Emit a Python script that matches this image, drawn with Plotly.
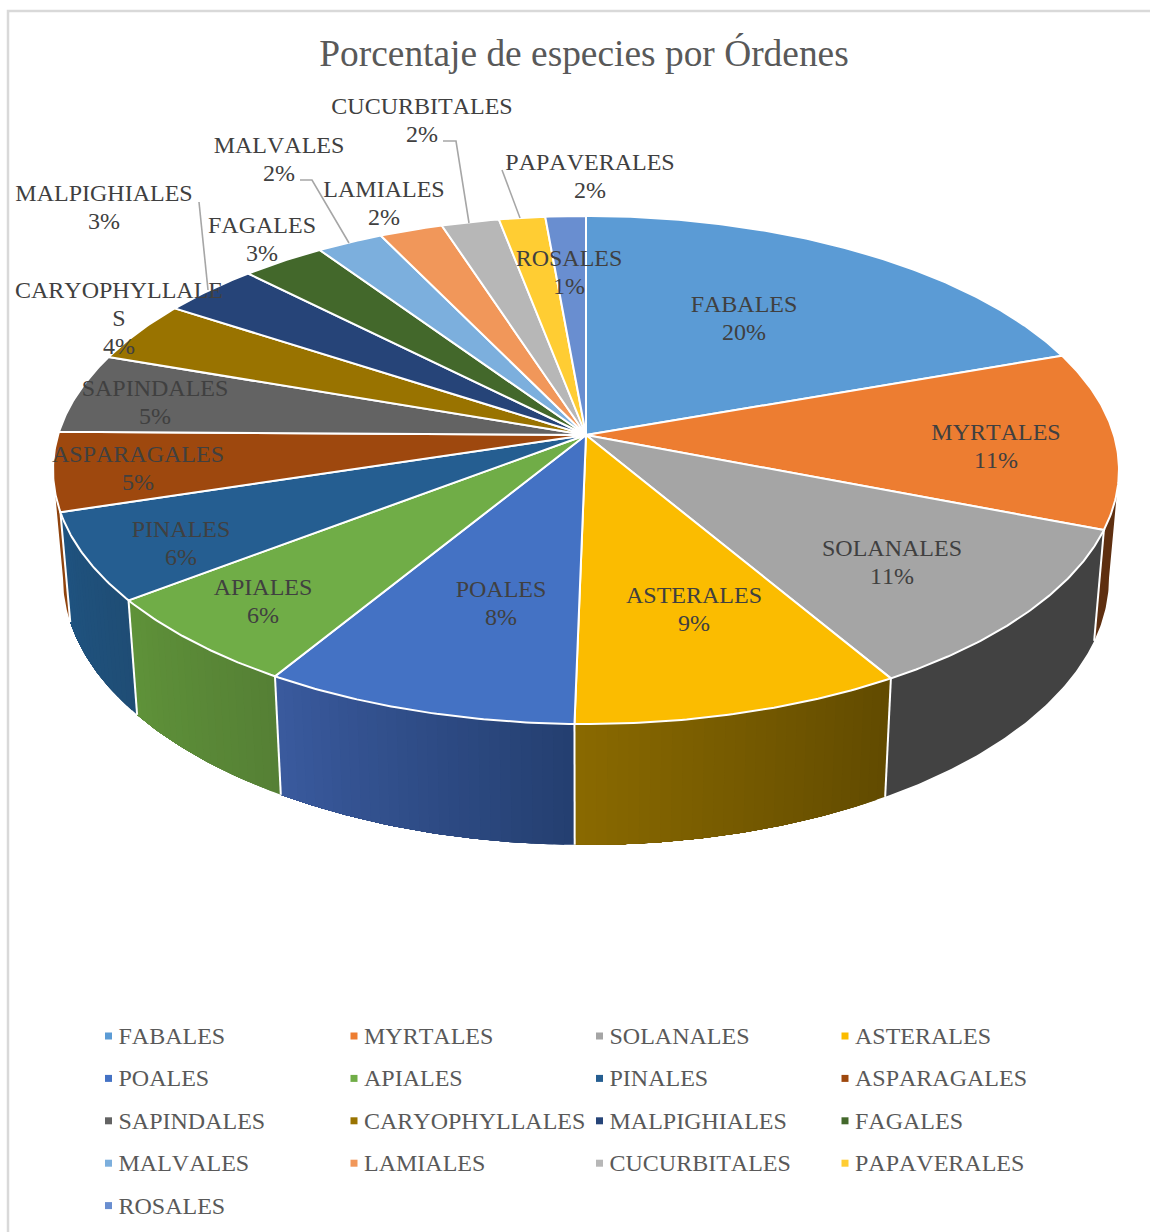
import math
import plotly.graph_objects as go

# Orders and their share of species (percent)
orders = ["FABALES", "MYRTALES", "SOLANALES", "ASTERALES", "POALES", "APIALES", "PINALES",
          "ASPARAGALES", "SAPINDALES", "CARYOPHYLLALES", "MALPIGHIALES", "FAGALES",
          "MALVALES", "LAMIALES", "CUCURBITALES", "PAPAVERALES", "ROSALES"]
shares = [19.6, 11.3, 10.6, 8.8, 8.4, 5.9, 5.6, 5.0, 5.1, 3.9, 3.4, 2.9, 2.3, 2.2, 2.0, 1.6, 1.4]

top_colors = ["#5B9BD5", "#ED7D31", "#A5A5A5", "#FBBC00", "#4472C4", "#70AD47", "#255E91",
              "#9E480E", "#636363", "#997300", "#264478", "#43682B", "#7CAFDD", "#F1975A",
              "#B7B7B7", "#FFCD33", "#698ED0"]
# Side wall shading: colour at the start and at the end of each wedge's arc
wall_from = ["#3A6690", "#5E2F10", "#424242", "#614A00", "#243F70", "#558035", "#1F4D75",
             "#8F430D", "#404040", "#614A00", "#1A2E52", "#2C451C", "#4F7596", "#A0643C",
             "#7A7A7A", "#AA8822", "#46608C"]
wall_to = ["#3A6690", "#5E2F10", "#424242", "#8A6A00", "#3A5A9E", "#5F9239", "#1F5380",
           "#8F430D", "#404040", "#614A00", "#1A2E52", "#2C451C", "#4F7596", "#A0643C",
           "#7A7A7A", "#AA8822", "#46608C"]

# Label text lines (a name may wrap) with the screen anchor of the first line
label_lines = {"CARYOPHYLLALES": ["CARYOPHYLLALE", "S"]}
label_x = [744, 996, 892, 694, 501, 263, 181, 138, 155, 119, 104, 262, 279, 384, 422, 590, 569]
label_y = [306, 434, 550, 597, 591, 589, 531, 456, 390, 292, 195, 227, 147, 191, 108, 164, 260]

# Leader lines for the labels placed outside the disc
leaders = [
    ([199, 208], [202, 290]),
    ([300, 312, 349], [180, 180, 243]),
    ([443, 456, 469], [141, 141, 223]),
    ([502, 520], [170, 218]),
]

# Perspective projection of the upper and lower faces of the disc
PERSP = 0.1378
TOP = dict(cx=586, cy=435, a=527.9, b=249.2)
BOTTOM = dict(cx=586, cy=541, a=518, b=262)
WALL_START, WALL_END = 98, 262

# Key layout
KEY_COLUMNS = 4
KEY_X, KEY_Y = 108.5, 1038
KEY_COL_STEP, KEY_ROW_STEP = 245.5, 42.4
KEY_MARK_Y_SHIFT = -2
KEY_TEXT_GAP = 10


def project(theta_deg, face):
    t = math.radians(theta_deg)
    u, v = math.sin(t), -math.cos(t)
    w = 1 - PERSP * v
    return face["cx"] + face["a"] * u / w, face["cy"] + face["b"] * v / w


def arc(t1, t2, face, step=0.5):
    n = max(2, int(abs(t2 - t1) / step) + 1)
    pts = [project(t1 + (t2 - t1) * i / (n - 1), face) for i in range(n)]
    return [p[0] for p in pts], [p[1] for p in pts]


def mix(c1, c2, f):
    a = [int(c1[i:i + 2], 16) for i in (1, 3, 5)]
    b = [int(c2[i:i + 2], 16) for i in (1, 3, 5)]
    return "rgb(%d,%d,%d)" % tuple(round(p + (q - p) * f) for p, q in zip(a, b))


total = sum(shares)
edges = [0.0]
for s in shares:
    edges.append(edges[-1] + 360 * s / total)

fig = go.Figure()

# Outer frame of the chart area
fig.add_shape(type="rect", x0=8, y0=11, x1=1175, y1=1260,
              line=dict(color="#D9D9D9", width=2.5), fillcolor="white", layer="below")

# Side walls; each strip runs to the wedge's far end and the next paints over it,
# so the gradient shows no seams
for i, (t1, t2) in enumerate(zip(edges[:-1], edges[1:])):
    lo, hi = max(t1, WALL_START), min(t2, WALL_END)
    if hi <= lo:
        continue
    n = 1 if wall_from[i] == wall_to[i] else max(1, int((hi - lo) / 1.0))
    for k in range(n):
        a = lo + (hi - lo) * k / n
        col = mix(wall_from[i], wall_to[i], (k + 0.5) / n)
        xt, yt = arc(a, hi, TOP, 0.5)
        xb, yb = arc(hi, a, BOTTOM, 0.5)
        fig.add_trace(go.Scatter(x=xt + xb, y=yt + yb, mode="lines", fill="toself",
                                 fillcolor=col, line=dict(width=0),
                                 hoverinfo="skip", showlegend=False))

# White separators between wall segments
for t in edges[1:-1]:
    if WALL_START < t < WALL_END:
        p, q = project(t, TOP), project(t, BOTTOM)
        fig.add_trace(go.Scatter(x=[p[0], q[0]], y=[p[1], q[1]], mode="lines",
                                 line=dict(color="white", width=2),
                                 hoverinfo="skip", showlegend=False))

# Top face wedges
for i, (t1, t2) in enumerate(zip(edges[:-1], edges[1:])):
    xa, ya = arc(t1, t2, TOP)
    fig.add_trace(go.Scatter(x=[TOP["cx"]] + xa + [TOP["cx"]], y=[TOP["cy"]] + ya + [TOP["cy"]],
                             mode="lines", fill="toself", fillcolor=top_colors[i],
                             line=dict(color="white", width=2),
                             hovertext=f"{orders[i]}: {shares[i]:.0f}%", hoverinfo="text",
                             showlegend=False))

for lx, ly in leaders:
    fig.add_trace(go.Scatter(x=lx, y=ly, mode="lines", line=dict(color="#A6A6A6", width=1.6),
                             hoverinfo="skip", showlegend=False))

# Data labels: one text point per line so the leading stays tight
LEADING = 28
tx, ty, tt = [], [], []
for name, share, x, y in zip(orders, shares, label_x, label_y):
    lines = label_lines.get(name, [name]) + [f"{share:.0f}%"]
    for j, line in enumerate(lines):
        tx.append(x)
        ty.append(y + j * LEADING)
        tt.append(line)
fig.add_trace(go.Scatter(x=tx, y=ty, text=tt, mode="text", textposition="middle center",
                         textfont=dict(family="Liberation Serif", size=24, color="#404040"),
                         hoverinfo="skip", showlegend=False))

# Key below the disc: four columns of small squares and names
kx, ky = [], []
for i in range(len(orders)):
    row, col = divmod(i, KEY_COLUMNS)
    kx.append(KEY_X + col * KEY_COL_STEP)
    ky.append(KEY_Y + row * KEY_ROW_STEP)
fig.add_trace(go.Scatter(x=kx, y=[v + KEY_MARK_Y_SHIFT for v in ky], mode="markers",
                         hoverinfo="skip", showlegend=False,
                         marker=dict(symbol="square", size=7, color=top_colors, line=dict(width=0))))
fig.add_trace(go.Scatter(x=[v + KEY_TEXT_GAP for v in kx], y=ky, text=orders, mode="text",
                         textposition="middle right", hoverinfo="skip", showlegend=False,
                         textfont=dict(family="Liberation Serif", size=24, color="#595959")))

fig.update_layout(
    width=1150, height=1232,
    margin=dict(l=0, r=0, t=0, b=0),
    paper_bgcolor="white", plot_bgcolor="rgba(0,0,0,0)",
    showlegend=False,
    xaxis=dict(range=[0, 1150], visible=False, fixedrange=True),
    yaxis=dict(range=[1232, 0], visible=False, fixedrange=True),
    title=dict(text="Porcentaje de especies por Órdenes", x=584 / 1150, xanchor="center",
               y=1 - 53 / 1232, yanchor="middle",
               font=dict(family="Liberation Serif", size=37.4, color="#595959")),
    hovermode="closest",
)

# Text is set without pair kerning
fig.write_html("out.html", post_script="document.getElementById('{plot_id}').style.fontKerning = 'none';")
